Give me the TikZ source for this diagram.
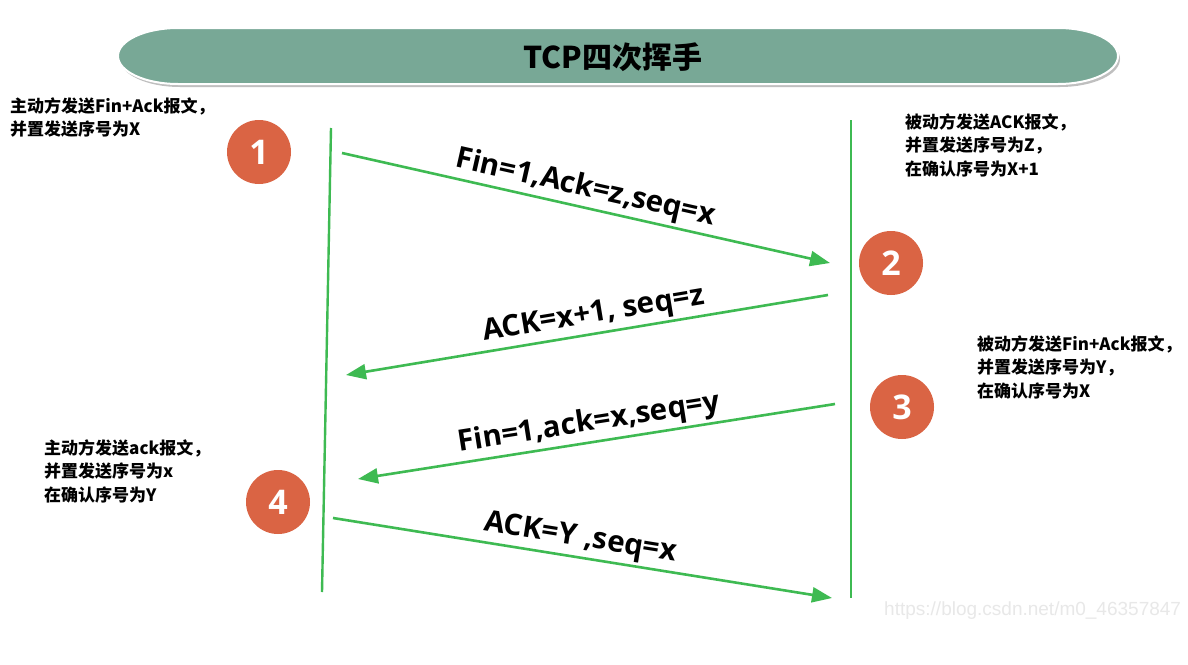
\documentclass[tikz,border=0pt]{standalone}
\usepackage{fontspec}
\setmainfont{Noto Sans CJK SC}
\newfontfamily\latinfont{Open Sans}
\newfontfamily\wmfont{Liberation Sans}
\usetikzlibrary{arrows.meta}
\definecolor{linegreen}{RGB}{62,186,82}
\definecolor{bannerfill}{RGB}{120,168,150}
\definecolor{badgefill}{RGB}{218,100,68}
\definecolor{wmgray}{RGB}{232,232,232}
\begin{document}
\begin{tikzpicture}[x=1pt,y=-1pt,
  msg/.style={line width=2.6pt, draw=linegreen, -{Triangle[length=20pt,width=15pt]}},
  life/.style={line width=2.4pt, draw=linegreen},
  lbl/.style={font=\latinfont\bfseries\fontsize{29.5}{29.5}\selectfont, sloped, above, inner sep=3pt},
  badgenode/.style={circle, fill=badgefill, minimum size=64pt, inner sep=0pt, text=white, font=\latinfont\bfseries\fontsize{34}{34}\selectfont},
  note/.style={anchor=north west, align=left, inner sep=0pt, font=\bfseries\fontsize{17}{23.5}\selectfont}]
\useasboundingbox (0,0) rectangle (1188,664);
\fill[white] (0,0) rectangle (1188,664);
% banner
\fill[black!25,xshift=2pt,yshift=-3pt] (178,28) -- (1058,28) arc[start angle=-90,end angle=90,x radius=60,y radius=28] -- (178,84) arc[start angle=90,end angle=270,x radius=60,y radius=28] -- cycle;
\draw[white,line width=2pt,fill=bannerfill] (178,28) -- (1058,28) arc[start angle=-90,end angle=90,x radius=60,y radius=28] -- (178,84) arc[start angle=90,end angle=270,x radius=60,y radius=28] -- cycle;
\node[font=\bfseries\fontsize{30}{30}\selectfont] (title) at (613,57) {TCP四次挥手};
% lifelines
\coordinate (L1) at (331,128);
\coordinate (L2) at (322,592);
\coordinate (R1) at (851,120);
\coordinate (R2) at (851,598);
\draw[life] (L1) -- (L2);
\draw[life] (R1) -- (R2);
% messages
\coordinate (m1s) at (342,153);
\coordinate (m1e) at (830,263);
\coordinate (m2s) at (828,295);
\coordinate (m2e) at (346,375);
\coordinate (m3s) at (835,404);
\coordinate (m3e) at (358,479);
\coordinate (m4s) at (333,518);
\coordinate (m4e) at (832,598);
\draw[msg] (m1s) -- node[lbl,pos=0.49] (t1) {Fin=1,Ack=z,seq=x} (m1e);
\draw[msg] (m2s) -- node[lbl,pos=0.48] (t2) {ACK=x+1, seq=z} (m2e);
\draw[msg] (m3s) -- node[lbl,pos=0.51] (t3) {Fin=1,ack=x,seq=y} (m3e);
\draw[msg] (m4s) -- node[lbl,pos=0.49] (t4) {ACK=Y ,seq=x} (m4e);
% badges
\node[badgenode] (b1) at (259,152) {1};
\node[badgenode] (b2) at (891,263) {2};
\node[badgenode] (b3) at (902,407) {3};
\node[badgenode] (b4) at (278,502) {4};
% notes
\node[note] (n1) at (10,97) {主动方发送Fin+Ack报文，\\并置发送序号为X};
\node[note] (n2) at (905,113) {被动方发送ACK报文，\\并置发送序号为Z，\\在确认序号为X+1};
\node[note] (n3) at (977,335) {被动方发送Fin+Ack报文，\\并置发送序号为Y，\\在确认序号为X};
\node[note] (n4) at (44,439) {主动方发送ack报文，\\并置发送序号为x\\在确认序号为Y};
% watermark
\node[anchor=west, text=wmgray, font=\wmfont\fontsize{19}{19}\selectfont, inner sep=0pt] (wm) at (884,611) {https://blog.csdn.net/m0\_46357847};
\end{tikzpicture}
\end{document}
